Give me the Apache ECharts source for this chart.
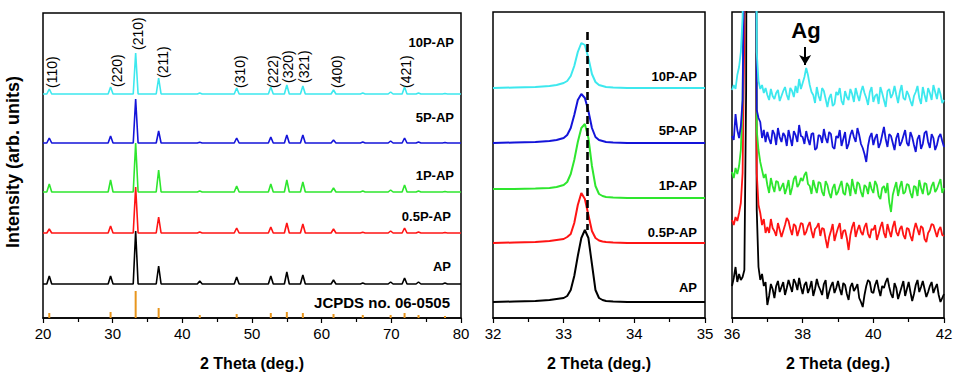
<!DOCTYPE html>
<html>
<head>
<meta charset="utf-8">
<title>XRD</title>
<script src="https://cdn.jsdelivr.net/npm/echarts@6.0.0/dist/echarts.min.js"></script>
<style>
  html, body { margin: 0; padding: 0; background: #fff; }
  #chart { width: 957px; height: 380px; }
</style>
</head>
<body>
<div id="chart"></div>
<script>
const FONT = "'Liberation Sans', Arial, sans-serif"

// 样品（从下到上）
const sampleNames = ['AP', '0.5P-AP', '1P-AP', '5P-AP', '10P-AP']
const sampleColors = ['#000000', '#ff1414', '#2ee62e', '#1414d9', '#3de8ee']

// 左图 20-80，全谱
const theta1 = [20,
  20.55, 20.9, 21.25, 29.35, 29.7, 30.05, 32.95, 33.3, 33.65, 36.25, 36.6, 36.95, 42.15, 42.5, 42.85,
  47.45, 47.8, 48.15, 52.35, 52.7, 53.05, 54.65, 55.0, 55.35, 56.95, 57.3, 57.65, 61.35, 61.7, 62.05,
  65.55, 65.9, 66.25, 69.55, 69.9, 70.25, 71.55, 71.9, 72.25, 73.55, 73.9, 74.25, 77.35, 77.7, 78.05,
  80]
const ap1 = [0,
  0, 8, 0, 0, 8, 0, 0, 53, 0, 0, 18, 0, 0, 3, 0,
  0, 7, 0, 0, 8, 0, 0, 12, 0, 0, 9, 0, 0, 4, 0,
  0, 1, 0, 0, 2, 0, 0, 6, 0, 0, 2, 0, 0, 1, 0,
  0]
const p05ap1 = [0,
  0, 4, 0, 0, 7, 0, 0, 46, 0, 0, 16, 0, 0, 1, 0,
  0, 5, 0, 0, 6, 0, 0, 10, 0, 0, 9, 0, 0, 4, 0,
  0, 0.7, 0, 0, 2, 0, 0, 5, 0, 0, 1, 0, 0, 0.5, 0,
  0]
const p1ap1 = [0,
  0, 8, 0, 0, 12, 0, 0, 49, 0, 0, 22, 0, 0, 1, 0,
  0, 6, 0, 0, 8, 0, 0, 12, 0, 0, 10, 0, 0, 4, 0,
  0, 1, 0, 0, 2, 0, 0, 7, 0, 0, 1, 0, 0, 0.5, 0,
  0]
const p5ap1 = [0,
  0, 5, 0, 0, 7, 0, 0, 44, 0, 0, 12, 0, 0, 0.7, 0,
  0, 5, 0, 0, 6, 0, 0, 8, 0, 0, 8, 0, 0, 3, 0,
  0, 1, 0, 0, 2, 0, 0, 5, 0, 0, 1, 0, 0, 0.5, 0,
  0]
const p10ap1 = [0,
  0, 5, 0, 0, 7, 0, 0, 41, 0, 0, 16, 0, 0, 1, 0,
  0, 6, 0, 0, 7, 0, 0, 9, 0, 0, 8, 0, 0, 4, 0,
  0, 1, 0, 0, 2, 0, 0, 7, 0, 0, 1, 0, 0, 0.5, 0,
  0]

// 标准卡片 JCPDS no. 06-0505
const jcpdsPos = [20.9, 29.7, 33.3, 36.6, 42.5, 47.8, 52.7, 55.0, 57.3, 61.7, 65.9, 69.9, 71.9, 73.9, 77.7]
const jcpdsInt = [5, 6, 27, 10, 3, 4, 5, 6, 5, 4, 3, 3, 5, 3, 2]

// 晶面指数
const hklNames = ['(110)', '(220)', '(210)', '(211)', '(310)', '(222)', '(320)', '(321)', '(400)', '(421)']

// 中图 32-35，(210) 峰放大
const theta2 = [32.0, 32.3, 32.6, 32.8, 32.9, 33.0, 33.05, 33.1, 33.15, 33.2, 33.25, 33.3,
  33.35, 33.4, 33.45, 33.5, 33.55, 33.6, 33.7, 33.9, 34.2, 34.6, 35.0]
const ap2 = [0, 0.5, 1, 2, 3, 4, 6, 12, 26, 46, 64, 72, 64, 38, 12, 4, 2, 1, 0.5, 0, 0, 0, 0]
const p05ap2 = [0, 0.5, 1, 2, 3, 4, 6, 9, 20, 38, 50, 44, 28, 12, 5, 2.5, 1.5, 1, 0.5, 0, 0, 0, 0]
const p1ap2 = [9, 9, 9.5, 10, 11, 13, 16, 24, 38, 56, 70, 74, 60, 32, 12, 4, 2, 1, 0.5, 0, 0, 0, 0]
const p5ap2 = [0, 0.5, 1, 2, 3, 5, 8, 15, 28, 43, 49, 45, 32, 15, 6, 3, 2, 1, 0.5, 0, 0, 0, 0]
const p10ap2 = [0, 0.5, 1, 2, 3, 5, 7, 12, 22, 36, 45, 43, 30, 14, 6, 3, 2, 1, 0.5, 0, 0, 0, 0]
const refLine = 33.33

// 右图 36-42，Ag 峰
const theta3 = [36.0, 36.05, 36.1, 36.15, 36.2, 36.25, 36.3, 36.35, 36.4, 36.45,
  36.5, 36.55, 36.6, 36.65, 36.7, 36.75, 36.8, 36.85, 36.9, 36.95,
  37.0, 37.05, 37.1, 37.15, 37.2, 37.25, 37.3, 37.35, 37.4, 37.45,
  37.5, 37.55, 37.6, 37.65, 37.7, 37.75, 37.8, 37.85, 37.9, 37.95,
  38.0, 38.05, 38.1, 38.15, 38.2, 38.25, 38.3, 38.35, 38.4, 38.45,
  38.5, 38.55, 38.6, 38.65, 38.7, 38.75, 38.8, 38.85, 38.9, 38.95,
  39.0, 39.05, 39.1, 39.15, 39.2, 39.25, 39.3, 39.35, 39.4, 39.45,
  39.5, 39.55, 39.6, 39.65, 39.7, 39.75, 39.8, 39.85, 39.9, 39.95,
  40.0, 40.05, 40.1, 40.15, 40.2, 40.25, 40.3, 40.35, 40.4, 40.45,
  40.5, 40.55, 40.6, 40.65, 40.7, 40.75, 40.8, 40.85, 40.9, 40.95,
  41.0, 41.05, 41.1, 41.15, 41.2, 41.25, 41.3, 41.35, 41.4, 41.45,
  41.5, 41.55, 41.6, 41.65, 41.7, 41.75, 41.8, 41.85, 41.9, 41.95,
  42.0]
const ap3 = [4, 12, 23, 8, 16, 10, 13, 20, 200, 900, 2000, 2000, 1500, 500, 80, 23, 10, 16, 4, 8,
  -15, -6, 6, 1, -8, 4, 9, -2, 3, 8,
  -5, 2, 10, 4, -2, 11, 7, 0, 12, 3,
  -4, 5, 8, -3, 2, 9, -6, 1, 11, 4,
  0, -5, 6, 10, -9, -2, 4, 8, -3, 2,
  9, 1, -5, 7, 5, -4, -10, 3, 7, -1,
  2, 6, -8, -12, -17, -5, 4, 10, 8, -2,
  -3, 5, 10, 1, -6, 4, 2, 8, 12, 3,
  -4, -8, 7, 2, -9, -3, 3, 9, -6, 1,
  8, -2, -11, -4, 5, 10, -2, 3, 9, 1,
  -7, -2, 4, 8, -3, 2, 6, -5, -12, -8,
  -4]
const p05ap3 = [13, 8, 16, 12, 20, 30, 60, 200, 800, 1500, 2000, 2000, 1500, 600, 60, 28, 20, 8, 14, 0,
  6, 0, 14, 5, 2, -3, 10, 3, -4, 2,
  8, 15, 12, 4, -2, 9, 7, -3, 3, 10,
  9, -2, 1, 7, 11, 2, -5, 4, 6, 10,
  -3, 5, 4, -6, -15, -4, 2, 9, -8, -1,
  5, 10, -6, 2, 3, -5, -17, -2, 6, 11,
  -4, 3, 8, 1, -2, 6, 10, -1, -5, 4,
  3, 8, -7, -1, 6, 11, 0, -5, 9, 2,
  -4, 6, 12, 1, -3, 4, 7, -2, -6, 5,
  4, -3, -8, 3, 10, 4, -2, 7, 5, -6,
  -9, 0, 3, 9, 8, 2, -4, 3, 6, -2,
  -3]
const p1ap3 = [18, 12, 22, 16, 24, 40, 90, 300, 900, 1500, 2000, 2000, 1500, 700, 60, 40, 28, 20, 12, 16,
  5, -3, 12, 4, -2, 9, 8, -1, 3, 7,
  -4, 2, 10, -5, 2, 11, 14, 3, 6, 12,
  9, 15, 18, 6, 4, -4, 10, 3, -3, 8,
  7, -2, -6, 9, 5, -3, -8, 2, 6, -5,
  -2, 4, 9, -3, -5, 7, 4, -6, 11, 2,
  -4, 8, 6, -2, -7, 5, 3, -4, 8, 1,
  -3, 9, 5, -6, -9, 2, 4, -3, 7, -12,
  -22, -5, 2, 8, -6, 3, 9, -4, -2, 6,
  5, -3, -8, 4, 3, -6, 10, 2, -4, 7,
  6, -5, -3, 4, 8, -2, 1, 6, 11, -3,
  2]
const p5ap3 = [4, 0, 26, 10, 2, 14, 40, 200, 900, 1500, 2000, 2000, 1500, 500, 30, 22, 18, 2, 10, -2,
  8, 1, -4, 10, 6, -5, 12, 3, -2, 7,
  4, -6, 10, 2, -6, 9, 5, -2, 15, 4,
  3, -4, 9, 1, -5, 6, 7, -10, -8, 5,
  4, -3, 11, 2, -3, 8, 6, -7, -9, 4,
  2, 10, -6, 1, 8, -9, -4, 5, 10, 3,
  -2, 12, 5, -4, -8, -14, -22, -6, 3, 7,
  -5, 2, 6, -8, -3, 5, 13, 1, -7, 6,
  4, -3, -10, 2, 7, -6, -2, 4, 10, -3,
  -6, 8, 3, -5, -12, 1, 5, -9, -4, 7,
  9, -2, -8, 6, 2, -10, -5, 3, 6, -1,
  -7]
const p10ap3 = [7, 12, 8, 22, 30, 45, 80, 260, 700, 1500, 2000, 2000, 1500, 600, 45, 16, 8, 12, 4, 9,
  2, -3, 8, 1, -2, 4, 7, -4, 1, 6,
  10, 2, -3, 9, 6, 0, 11, 4, 18, 8,
  14, 20, 29, 22, 12, 5, 2, -6, 10, 1,
  -4, 9, 6, -2, -10, -1, 3, -9, -7, 5,
  2, 9, -4, -8, 6, 0, -3, 8, 3, -5,
  9, 2, -4, 5, 11, 4, -1, -8, 5, 10,
  -5, 1, 3, -7, 10, 4, -3, -10, 6, 8,
  -1, 3, 11, 2, -6, 5, 12, -1, -3, 6,
  2, -4, -9, 1, 5, 11, -1, -7, 10, 2,
  -5, 9, 4, -3, 12, 5, -2, 9, 3, -6,
  -3]
const agPeak = 38.07

// x 轴刻度
const ticks1 = [20, 30, 40, 50, 60, 70, 80]
const ticks2 = [32, 33, 34, 35]
const ticks3 = [36, 38, 40, 42]

// 各曲线的纵向平移（叠放）
const offset1 = [34, 85, 126, 175, 224]
const offset2 = [16, 75, 120, 175, 230]
const offset3 = [28, 85, 128, 178, 221]

const curves1 = [ap1, p05ap1, p1ap1, p5ap1, p10ap1]
const curves2 = [ap2, p05ap2, p1ap2, p5ap2, p10ap2]
const curves3 = [ap3, p05ap3, p1ap3, p5ap3, p10ap3]

function xAxisOf (idx, ticks) {
  return {
    gridIndex: idx,
    type: 'value',
    min: ticks[0],
    max: ticks[ticks.length - 1],
    interval: ticks[1] - ticks[0],
    name: '2 Theta (deg.)',
    nameLocation: 'middle',
    nameGap: 37,
    nameTextStyle: { color: '#000', fontSize: 16, fontWeight: 'bold', fontFamily: FONT },
    axisLine: { show: true, lineStyle: { color: '#000', width: 1.5 } },
    axisTick: { show: true, length: 5, lineStyle: { color: '#000', width: 1.2 } },
    minorTick: { show: true, splitNumber: 2, length: 4, lineStyle: { color: '#000', width: 1.2 } },
    axisLabel: { color: '#000', fontSize: 15, margin: 8, fontFamily: FONT },
    splitLine: { show: false },
    minorSplitLine: { show: false }
  }
}

function yAxisOf (idx, max) {
  return {
    gridIndex: idx,
    type: 'value',
    min: 0,
    max: max,
    axisLine: { show: false },
    axisTick: { show: false },
    axisLabel: { show: false },
    splitLine: { show: false }
  }
}

function curve (xs, ys, offset, color, idx, width) {
  return {
    type: 'line',
    xAxisIndex: idx,
    yAxisIndex: idx,
    data: xs.map((x, i) => [x, ys[i] + offset]),
    symbol: 'none',
    clip: true,
    silent: true,
    lineStyle: { color: color, width: width },
    itemStyle: { color: color }
  }
}

function text (x, y, str, size, opts) {
  return Object.assign({
    type: 'text',
    x: x,
    y: y,
    style: {
      text: str,
      fill: '#000',
      font: (opts && opts.weight ? opts.weight + ' ' : '') + size + 'px ' + FONT,
      align: (opts && opts.align) || 'right',
      verticalAlign: 'middle'
    }
  }, opts && opts.rotation ? { rotation: opts.rotation } : {})
}

function buildSeries () {
  const series = []
  for (let k = 0; k < 5; k++) {
    series.push(curve(theta1, curves1[k], offset1[k], sampleColors[k], 0, 1.6))
    series.push(curve(theta2, curves2[k], offset2[k], sampleColors[k], 1, 2))
    series.push(curve(theta3, curves3[k], offset3[k], sampleColors[k], 2, 1.8))
  }
  // 标准卡片竖线
  series.push({
    type: 'bar',
    xAxisIndex: 0,
    yAxisIndex: 0,
    barWidth: 2,
    silent: true,
    itemStyle: { color: '#e8961e' },
    data: jcpdsPos.map((p, i) => [p, jcpdsInt[i]])
  })
  // 中图虚线
  series[1].markLine = {
    silent: true,
    symbol: 'none',
    label: { show: false },
    lineStyle: { color: '#000', width: 2.6, type: [8, 4] },
    data: [[{ coord: [refLine, 286] }, { coord: [refLine, 88] }]]
  }
  // Ag 箭头
  series[14].markLine = {
    silent: true,
    symbol: ['none', 'arrow'],
    symbolSize: [9, 10],
    label: { show: false },
    lineStyle: { color: '#000', width: 2, type: 'solid' },
    data: [[{ coord: [agPeak, 271] }, { coord: [agPeak, 253] }]]
  }
  return series
}

function buildGraphic () {
  const g = []
  const y1 = [266, 216, 175, 117, 42]
  const x1 = [451, 451, 454, 454, 454]
  const y2 = [287, 232, 185, 130, 76]
  for (let k = 0; k < 5; k++) {
    g.push(text(x1[k], y1[k], sampleNames[k], 13, { weight: 'bold' }))
    g.push(text(697, y2[k], sampleNames[k], 13, { weight: 'bold' }))
  }
  g.push(text(450, 302.5, 'JCPDS no. 06-0505', 15, { weight: 'bold' }))
  // 晶面指数，竖排
  const hx = [52.3, 116.7, 138.3, 163.3, 240, 272.7, 288.3, 304, 336.7, 406]
  const hy = [88, 87, 50, 78, 88, 88, 83, 83, 88, 88]
  hklNames.forEach((h, i) => {
    g.push(text(hx[i], hy[i], h, 14, { align: 'left', rotation: Math.PI / 2 }))
  })
  g.push(text(13, 162, 'Intensity (arb. units)', 18, { weight: 'bold', align: 'center', rotation: Math.PI / 2 }))
  g.push(text(806, 30, 'Ag', 22, { weight: 'bold', align: 'center' }))
  return g
}

const gridBase = { show: true, borderColor: '#000', borderWidth: 1.5, backgroundColor: 'transparent', containLabel: false, outerBoundsMode: 'none' }

const chart = echarts.init(document.getElementById('chart'), null, { renderer: 'svg' })
chart.setOption({
  animation: false,
  backgroundColor: '#fff',
  grid: [
    Object.assign({ left: 43, top: 13, width: 418, height: 305 }, gridBase),
    Object.assign({ left: 493, top: 12, width: 212, height: 306 }, gridBase),
    Object.assign({ left: 732, top: 12, width: 212, height: 306 }, gridBase)
  ],
  xAxis: [xAxisOf(0, ticks1), xAxisOf(1, ticks2), xAxisOf(2, ticks3)],
  yAxis: [yAxisOf(0, 305), yAxisOf(1, 306), yAxisOf(2, 306)],
  series: buildSeries(),
  graphic: buildGraphic()
})
</script>
</body>
</html>
